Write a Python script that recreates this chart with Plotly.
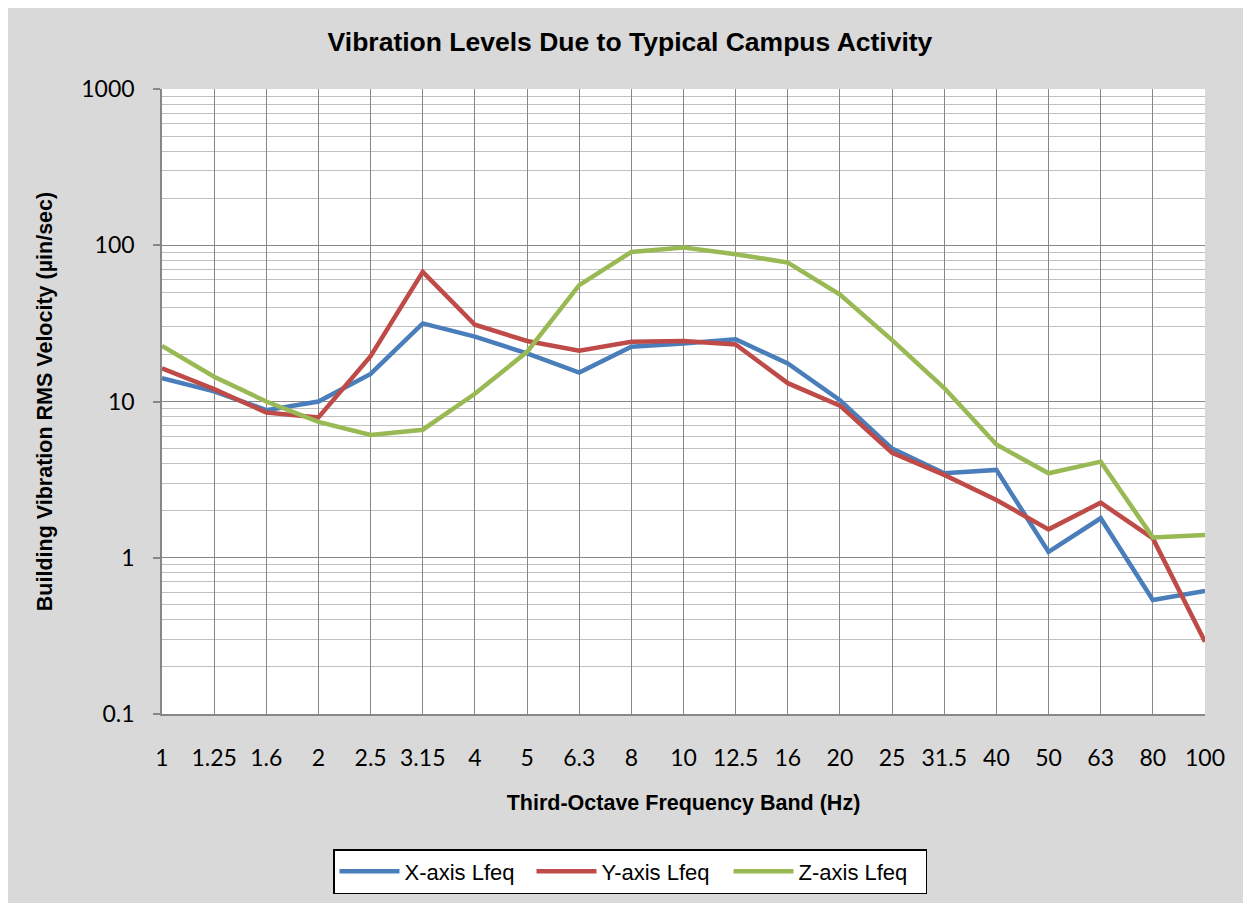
import plotly.graph_objects as go

bands = ["1", "1.25", "1.6", "2", "2.5", "3.15", "4", "5", "6.3", "8", "10",
         "12.5", "16", "20", "25", "31.5", "40", "50", "63", "80", "100"]

x_axis_lfeq = [14.1, 11.6, 8.8, 10.0, 15.0, 31.6, 26.0, 20.3, 15.3, 22.4, 23.5,
               25.0, 17.5, 10.2, 5.0, 3.47, 3.65, 1.09, 1.79, 0.536, 0.614]
y_axis_lfeq = [16.3, 12.0, 8.5, 7.9, 19.5, 67.6, 31.0, 24.4, 21.1, 24.1, 24.4,
               23.2, 13.1, 9.4, 4.7, 3.39, 2.34, 1.52, 2.25, 1.33, 0.29]
z_axis_lfeq = [22.7, 14.4, 10.0, 7.4, 6.1, 6.6, 11.2, 20.8, 55.5, 90.6, 96.6,
               87.7, 77.5, 48.4, 24.7, 12.2, 5.3, 3.47, 4.12, 1.35, 1.4]

series = [
    ("X-axis Lfeq", x_axis_lfeq, "#4A7EBB"),
    ("Y-axis Lfeq", y_axis_lfeq, "#BE4B48"),
    ("Z-axis Lfeq", z_axis_lfeq, "#98B954"),
]

idx = list(range(len(bands)))

fig = go.Figure()
for name, vals, color in series:
    fig.add_trace(go.Scatter(x=idx, y=vals, mode="lines", name=name,
                             line=dict(color=color, width=4.5)))

# page has an 8px body margin; figure occupies the rest of the window
OFF = 8
W, H = 1251 - OFF, 903 - OFF
L, R, T, B = 162 - OFF, 1205 - OFF, 89 - OFF, 714 - OFF

ARIAL = "Liberation Sans, Arial, sans-serif"
TICKFONT = "Lato, Carlito, sans-serif"

fig.update_layout(
    width=W, height=H,
    margin=dict(l=L, r=W - R, t=T, b=H - B, pad=0),
    paper_bgcolor="#D9D9D9",
    plot_bgcolor="white",
    font=dict(family=ARIAL, color="black"),
    title=dict(text="<b>Vibration Levels Due to Typical Campus Activity</b>",
               x=(630 - OFF) / W, xref="container", xanchor="center",
               y=1 - (42 - OFF) / H, yref="container", yanchor="middle",
               font=dict(size=26.5, family=ARIAL)),
    legend=dict(orientation="h", xref="container", yref="container",
                x=(630 - OFF) / W, xanchor="center",
                y=1 - (849 - OFF) / H, yanchor="top",
                bgcolor="white", bordercolor="black", borderwidth=1.5,
                font=dict(size=22, family=ARIAL),
                entrywidth=122, entrywidthmode="pixels", itemwidth=60,
                tracegroupgap=0),
)

fig.update_xaxes(
    range=[0, len(bands) - 1],
    tickmode="array", tickvals=idx, ticktext=bands,
    showgrid=True, gridcolor="#878787", gridwidth=1.3,
    showline=True, linecolor="#878787", linewidth=1.5,
    ticks="", ticklabelstandoff=23,
    tickfont=dict(family=TICKFONT, size=23),
    title=dict(text="<b>Third-Octave Frequency Band (Hz)</b>", standoff=25,
               font=dict(size=21.5, family=ARIAL)),
    zeroline=False, mirror=False,
)

fig.update_yaxes(
    type="log", range=[-1, 3],
    tickmode="array", tickvals=[0.1, 1, 10, 100, 1000],
    ticktext=["0.1", "1", "10", "100", "1000"],
    showgrid=True, gridcolor="#878787", gridwidth=1.3,
    minor=dict(dtick="D1", showgrid=True, gridcolor="#C0C0C0", gridwidth=1.3,
               ticks=""),
    showline=True, linecolor="#878787", linewidth=1.5,
    ticks="outside", ticklen=7, tickcolor="#878787", tickwidth=1.5,
    ticklabelstandoff=14,
    tickfont=dict(family=TICKFONT, size=23),
    title=dict(text="<b>Building Vibration RMS Velocity (µin/sec)</b>", standoff=23,
               font=dict(size=21.5, family=ARIAL)),
    zeroline=False,
)

fig.write_html("out.html")
